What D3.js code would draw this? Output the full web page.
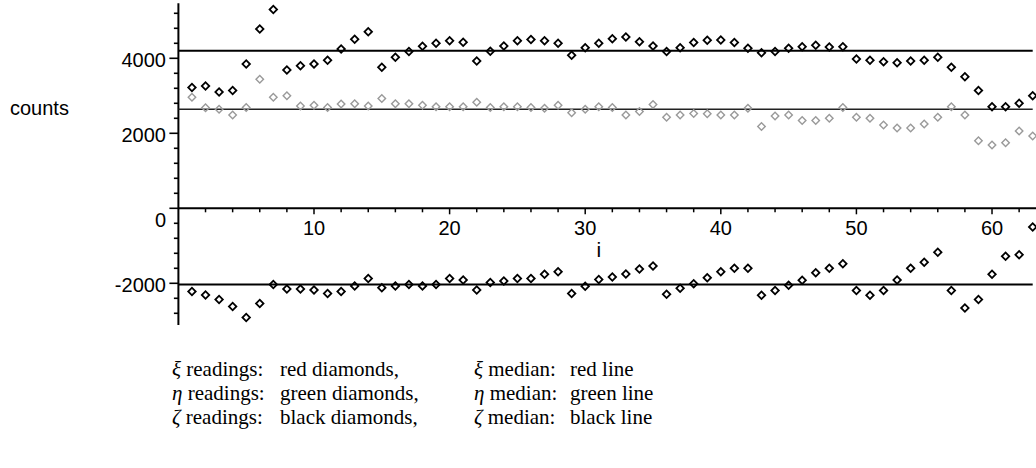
<!DOCTYPE html>
<html><head><meta charset="utf-8">
<script src="https://cdn.jsdelivr.net/npm/d3@7"></script>
<style>html,body{margin:0;padding:0;background:#fff;}svg{display:block;}</style>
</head><body>
<svg id="chart" width="1036" height="468"></svg>
<script>
const indices = d3.range(1, 64);
const xiValues = [3220,3260,3100,3140,3850,4780,5300,3690,3800,3850,3950,4250,4510,4710,3760,4030,4180,4320,4400,4470,4430,3930,4190,4330,4470,4500,4470,4400,4080,4280,4400,4520,4570,4440,4330,4180,4280,4420,4480,4490,4420,4270,4150,4180,4270,4310,4350,4300,4310,3980,3950,3910,3880,3930,3950,4030,3760,3510,3140,2710,2710,2800,3000];
const etaValues = [2960,2680,2640,2490,2690,3440,2960,3000,2730,2750,2690,2780,2790,2730,2930,2790,2790,2750,2710,2710,2710,2830,2690,2710,2710,2690,2670,2750,2550,2640,2710,2690,2490,2580,2770,2430,2490,2530,2520,2490,2490,2670,2180,2460,2490,2340,2340,2400,2690,2430,2400,2220,2140,2140,2250,2430,2710,2490,1800,1690,1750,2060,1930];
const zetaValues = [-2220,-2310,-2430,-2620,-2910,-2540,-2030,-2150,-2150,-2180,-2270,-2220,-2070,-1870,-2120,-2070,-2030,-2070,-2030,-1870,-1910,-2180,-1980,-1940,-1870,-1870,-1760,-1690,-2270,-2080,-1900,-1830,-1750,-1620,-1540,-2290,-2130,-2010,-1850,-1690,-1600,-1600,-2320,-2190,-2050,-1920,-1720,-1600,-1480,-2190,-2320,-2190,-1910,-1600,-1440,-1170,-2190,-2660,-2430,-1760,-1280,-1240,-500];
const medians = [4200, 2640, -2030];
const xTickValues = [10, 20, 30, 40, 50, 60];
const yTickValues = [-2000, 0, 2000, 4000];
const legendRows = [
  ["ξ", " readings:", "red diamonds,", "ξ", " median:", "red line"],
  ["η", " readings:", "green diamonds,", "η", " median:", "green line"],
  ["ζ", " readings:", "black diamonds,", "ζ", " median:", "black line"]
];

const svg = d3.select("#chart");
const x = d3.scaleLinear().domain([0, 63]).range([178.4, 1032.7]);
const y = d3.scaleLinear().domain([-2000, 4000]).range([283.3, 58.3]);
const yMin = -3110, yMax = 5470;
const x0 = x(0);

// y axis
svg.append("line").attr("x1", x0).attr("x2", x0).attr("y1", y(yMax)).attr("y2", y(yMin))
  .attr("stroke", "#000").attr("stroke-width", 2);
const minorY = d3.range(-2800, 5400, 400);
svg.selectAll(".ym").data(minorY).join("line")
  .attr("x1", d => yTickValues.includes(d) ? x0 - 9 : x0 - 4.5).attr("x2", x0)
  .attr("y1", d => y(d)).attr("y2", d => y(d))
  .attr("stroke", "#000").attr("stroke-width", 1.6);
svg.selectAll(".yl").data(yTickValues).join("text")
  .attr("x", 166).attr("y", d => y(d) + (d === 0 ? 19 : 9))
  .attr("text-anchor", "end").attr("font-family", "Liberation Sans, Arial, sans-serif")
  .attr("font-size", 20).text(d => d);

// x axis
svg.append("line").attr("x1", x0).attr("x2", 1036).attr("y1", y(0)).attr("y2", y(0))
  .attr("stroke", "#000").attr("stroke-width", 2);
const minorX = d3.range(2, 64, 2);
svg.selectAll(".xm").data(minorX).join("line")
  .attr("x1", d => x(d)).attr("x2", d => x(d))
  .attr("y1", y(0)).attr("y2", d => y(0) + (d % 10 === 0 ? 6 : 4))
  .attr("stroke", "#000").attr("stroke-width", 1.5);
svg.selectAll(".xl").data(xTickValues).join("text")
  .attr("x", d => x(d)).attr("y", 235)
  .attr("text-anchor", "middle").attr("font-family", "Liberation Sans, Arial, sans-serif")
  .attr("font-size", 20).text(d => d);
svg.append("text").attr("x", x(31)).attr("y", 257).attr("text-anchor", "middle")
  .attr("font-family", "Liberation Sans, Arial, sans-serif").attr("font-size", 21).text("i");
svg.append("text").attr("x", 10).attr("y", 115)
  .attr("font-family", "Liberation Sans, Arial, sans-serif").attr("font-size", 20).text("counts");

// median lines
svg.selectAll(".med").data(medians).join("line")
  .attr("x1", x0).attr("x2", x(63)).attr("y1", d => y(d)).attr("y2", d => y(d))
  .attr("stroke", (d, i) => i === 1 ? "#222" : "#000").attr("stroke-width", (d, i) => i === 1 ? 1.6 : 2);

// diamonds
const diamond = d3.symbol().type(d3.symbolSquare).size(28);
function drawSeries(vals, color, sw) {
  svg.append("g").selectAll("path").data(vals).join("path")
    .attr("d", diamond)
    .attr("transform", (d, i) => `translate(${x(indices[i])},${y(d)}) rotate(45)`)
    .attr("fill", "none").attr("stroke", color).attr("stroke-width", sw);
}
drawSeries(etaValues, "#9a9a9a", 1.4);
drawSeries(xiValues, "#000", 1.8);
drawSeries(zetaValues, "#000", 1.8);

// legend
const colX = [172, 280, 474, 570];
const rowY = [376, 400, 424];
const serif = "Liberation Serif, Times New Roman, serif";
legendRows.forEach((r, k) => {
  const t1 = svg.append("text").attr("x", colX[0]).attr("y", rowY[k])
    .attr("font-family", serif).attr("font-size", 21);
  t1.append("tspan").attr("font-style", "italic").text(r[0]);
  t1.append("tspan").text(r[1]);
  svg.append("text").attr("x", colX[1]).attr("y", rowY[k])
    .attr("font-family", serif).attr("font-size", 21).text(r[2]);
  const t3 = svg.append("text").attr("x", colX[2]).attr("y", rowY[k])
    .attr("font-family", serif).attr("font-size", 21);
  t3.append("tspan").attr("font-style", "italic").text(r[3]);
  t3.append("tspan").text(r[4]);
  svg.append("text").attr("x", colX[3]).attr("y", rowY[k])
    .attr("font-family", serif).attr("font-size", 21).text(r[5]);
});
</script>
</body></html>
